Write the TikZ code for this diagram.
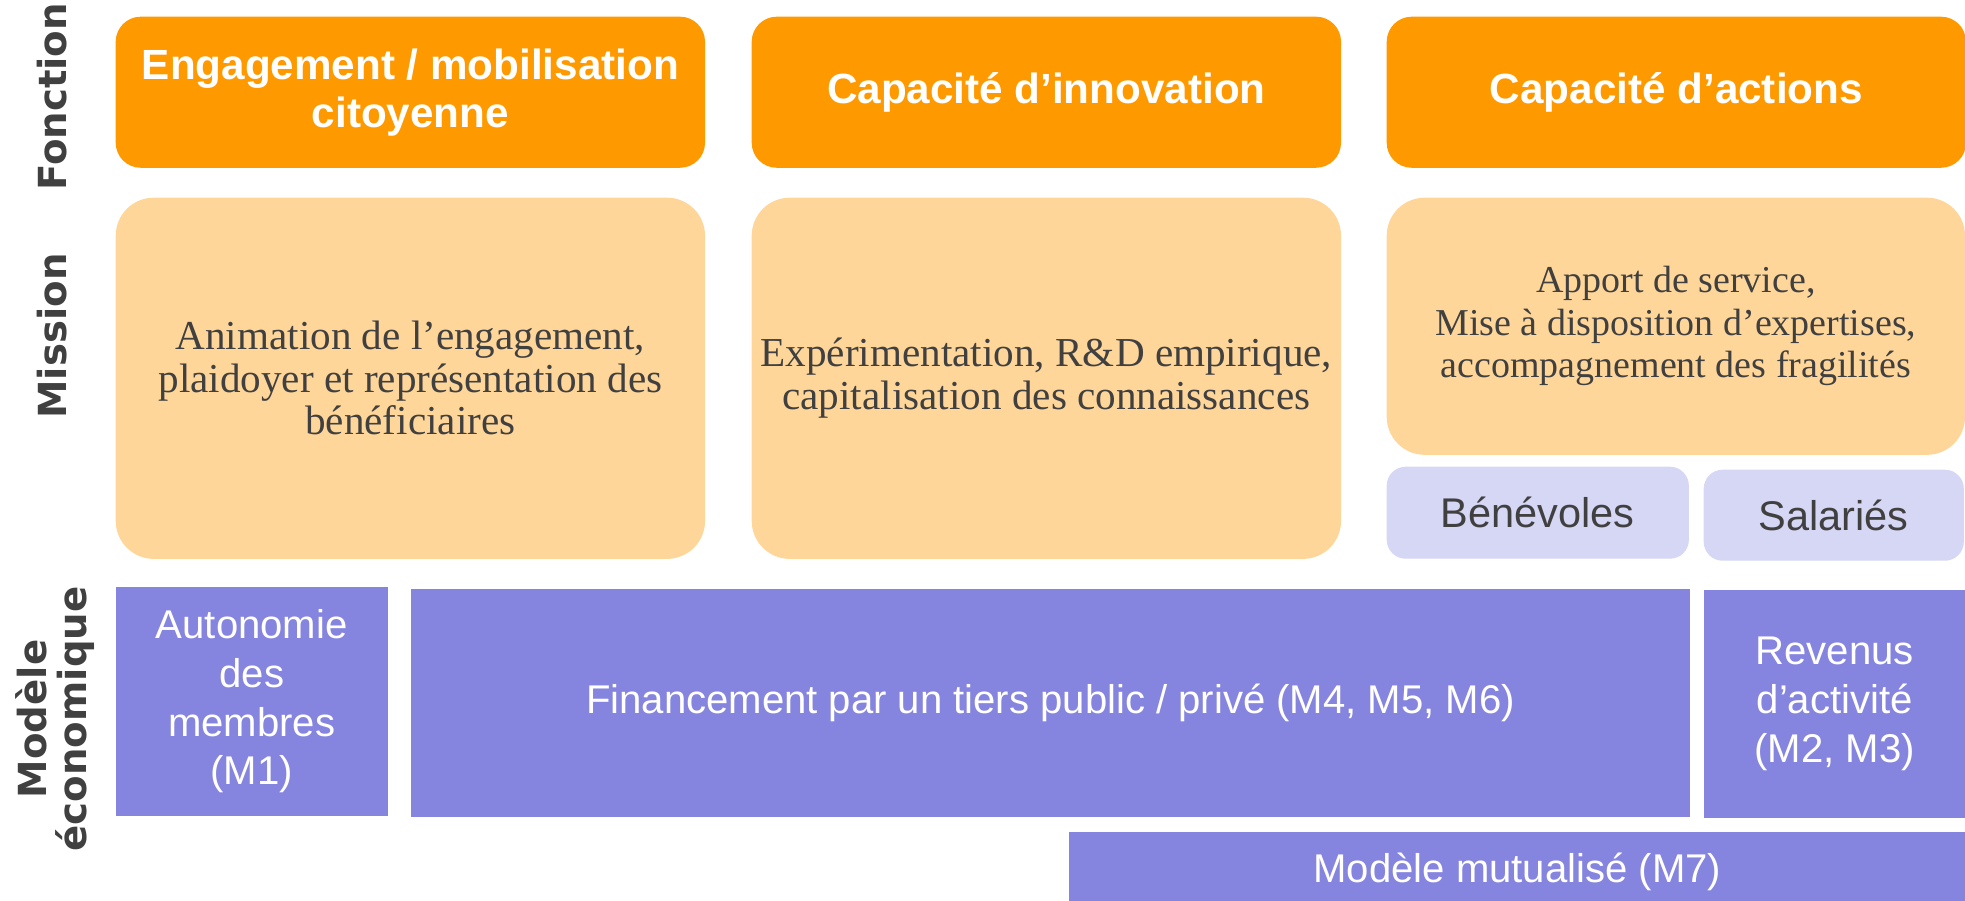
\documentclass[tikz,border=0pt]{standalone}
\usepackage{fontspec}
\setmainfont{Liberation Serif}
\setsansfont{Liberation Sans}
\newfontfamily\labelfont{DejaVu Sans}

\definecolor{fonctionorange}{RGB}{255,153,0}
\definecolor{missionorange}{RGB}{255,214,153}
\definecolor{staffblue}{RGB}{214,214,245}
\definecolor{modelpurple}{RGB}{133,133,224}
\definecolor{textgray}{RGB}{64,64,64}

\tikzset{
  box/.style={anchor=north west, inner sep=0pt, align=center},
  fonctionbox/.style={box, fill=fonctionorange, rounded corners=0.25cm, text=white,
    font=\sffamily\bfseries\fontsize{12}{13.6}\selectfont},
  missionbox/.style={box, fill=missionorange, rounded corners=0.38cm, text=textgray,
    font=\fontsize{11.7}{12.1}\selectfont},
  staffbox/.style={box, fill=staffblue, rounded corners=0.19cm, text=textgray,
    font=\sffamily\fontsize{11.8}{13}\selectfont},
  modelbox/.style={box, fill=modelpurple, text=white,
    font=\sffamily\fontsize{11.4}{13.9}\selectfont},
  rowlabel/.style={rotate=90, text=textgray, align=center,
    font=\labelfont\bfseries\fontsize{11}{11.4}\selectfont}
}

\begin{document}
\begin{tikzpicture}[x=0.01cm, y=-0.01cm]
\useasboundingbox (0,0) rectangle (1965,901);
\clip (0,0) rectangle (1965,901);

% row labels
\node[rowlabel] (fonction) at (52,97) {Fonction};
\node[rowlabel] (mission) at (52,336) {Mission};
\node[rowlabel] (modele) at (55,719) {Modèle\\économique};

% fonction
\node[fonctionbox, minimum width=5.89cm, minimum height=1.51cm] (engagement) at (115,16) {Engagement / mobilisation\\citoyenne};
\node[fonctionbox, minimum width=5.89cm, minimum height=1.51cm] (innovation) at (751,16) {Capacité d’innovation};
\node[fonctionbox, minimum width=5.79cm, minimum height=1.51cm] (actions) at (1386,16) {Capacité d’actions};

% mission
\node[missionbox, minimum width=5.89cm, minimum height=3.61cm] (animation) at (115,197) {Animation de l’engagement,\\plaidoyer et représentation des\\bénéficiaires};
\node[missionbox, minimum width=5.89cm, minimum height=3.61cm] (experimentation) at (751,197) {Expérimentation, R\&D empirique,\\capitalisation des connaissances};
\node[missionbox, minimum width=5.78cm, minimum height=2.57cm,
  font=\fontsize{10.8}{12.1}\selectfont] (apport) at (1386,197) {Apport de service,\\Mise à disposition d’expertises,\\accompagnement des fragilités};

\node[staffbox, minimum width=3.02cm, minimum height=0.92cm] (benevoles) at (1386,466) {Bénévoles};
\node[staffbox, minimum width=2.60cm, minimum height=0.91cm] (salaries) at (1703,469) {Salariés};

% modele economique
\node[modelbox, minimum width=2.72cm, minimum height=2.29cm] (autonomie) at (115,586) {Autonomie\\des\\membres\\(M1)};
\node[modelbox, minimum width=12.79cm, minimum height=2.28cm] (financement) at (410,588) {Financement par un tiers public / privé (M4, M5, M6)};
\node[modelbox, minimum width=2.62cm, minimum height=2.28cm] (revenus) at (1703,589) {Revenus\\d’activité\\(M2, M3)};
\node[modelbox, minimum width=8.97cm, minimum height=0.8cm] (mutualise) at (1068,831) {Modèle mutualisé (M7)};

\end{tikzpicture}
\end{document}
